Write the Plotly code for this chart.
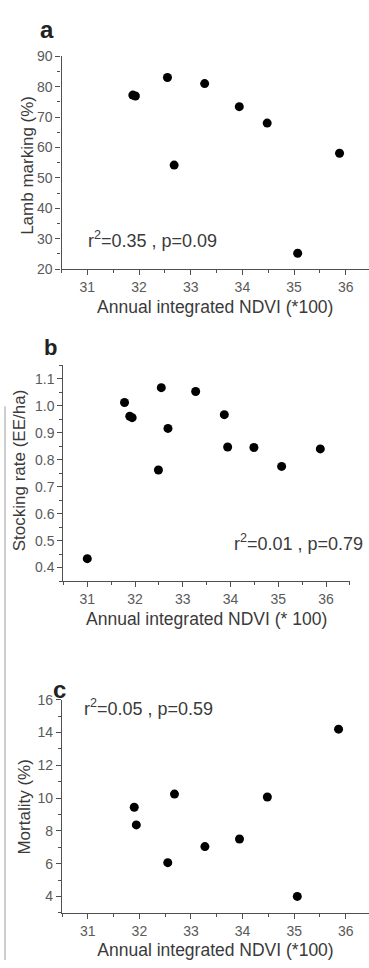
import plotly.graph_objects as go

# ---- data ----
ndvi_a = [31.88, 31.93, 32.55, 32.68, 33.27, 33.94, 34.48, 35.07, 35.88]
lamb_marking = [77.2, 76.9, 83.0, 54.2, 81.0, 73.4, 68.0, 25.2, 58.1]

ndvi_b = [31.00, 31.78, 31.89, 31.94, 32.49, 32.55, 32.69, 33.27, 33.87, 33.94, 34.49, 35.07, 35.88]
stocking_rate = [0.433, 1.012, 0.961, 0.956, 0.762, 1.067, 0.916, 1.053, 0.967, 0.847, 0.845, 0.775, 0.840]

ndvi_c = [31.90, 31.94, 32.55, 32.68, 33.27, 33.94, 34.48, 35.06, 35.86]
mortality = [9.44, 8.36, 6.06, 10.24, 7.04, 7.50, 10.06, 4.00, 14.20]

x_ticks = [31, 32, 33, 34, 35, 36]
stats_a = "r<sup>2</sup>=0.35 , p=0.09"
stats_b = "r<sup>2</sup>=0.01 , p=0.79"
stats_c = "r<sup>2</sup>=0.05 , p=0.59"

W, H = 369, 968
FONT = "Liberation Sans, Arial, sans-serif"
AX = "#505050"
TICKC = "#5a5a5a"
TITC = "#3a3a3a"

def px(x):
    return x / W

def py(y):
    return 1 - y / H

fig = go.Figure()
mk = dict(color="black", size=9)
fig.add_trace(go.Scatter(x=ndvi_a, y=lamb_marking, mode="markers", marker=mk, xaxis="x", yaxis="y", showlegend=False))
fig.add_trace(go.Scatter(x=ndvi_b, y=stocking_rate, mode="markers", marker=mk, xaxis="x2", yaxis="y2", showlegend=False))
fig.add_trace(go.Scatter(x=ndvi_c, y=mortality, mode="markers", marker=mk, xaxis="x3", yaxis="y3", showlegend=False))

def xax(domain, rng, anchor, title):
    return dict(domain=domain, range=rng, anchor=anchor, showgrid=False, zeroline=False,
                showline=True, linecolor=AX, linewidth=1.3, ticks="outside", ticklen=5,
                tickwidth=1.2, tickcolor=AX, tickvals=x_ticks,
                minor=dict(dtick=0.5, ticks="outside", ticklen=3, tickcolor=AX, tickwidth=1),
                tickfont=dict(family=FONT, size=14, color=TICKC),
                title=dict(text=title, font=dict(family=FONT, size=17.5, color=TITC), standoff=6))

def yax(domain, rng, anchor, dtick, mdtick):
    return dict(domain=domain, range=rng, anchor=anchor, showgrid=False, zeroline=False,
                showline=True, linecolor=AX, linewidth=1.3, ticks="outside", ticklen=5,
                tickwidth=1.2, tickcolor=AX, dtick=dtick, tick0=0,
                minor=dict(dtick=mdtick, ticks="outside", ticklen=3, tickcolor=AX, tickwidth=1),
                tickfont=dict(family=FONT, size=14, color=TICKC))

fig.update_layout(
    width=W, height=H, margin=dict(l=0, r=0, t=0, b=0),
    paper_bgcolor="white", plot_bgcolor="white",
    xaxis=xax([px(61.5), 1.0], [30.5, 36.45], "y", "Annual integrated NDVI (*100)"),
    yaxis=yax([py(265.5), py(49)], [20, 90], "x", 10, 5),
    xaxis2=xax([px(63.4), px(349.9)], [30.5, 36.5], "y2", "Annual integrated NDVI (* 100)"),
    yaxis2=dict(yax([py(582.7), py(363.3)], [0.35, 1.15], "x2", 0.1, 0.05), tickformat=".1f"),
    xaxis3=xax([px(62), 1.0], [30.5, 36.45], "y3", "Annual integrated NDVI (*100)"),
    yaxis3=yax([py(920), py(703.3)], [3, 16], "x3", 2, 1),
)

ann = []
def label(text, x, y, size=18, bold=False, angle=0, color=TITC, xanchor="center"):
    ann.append(dict(text=f"<b>{text}</b>" if bold else text, x=px(x), y=py(y), xref="paper", yref="paper",
                    showarrow=False, xanchor=xanchor, yanchor="middle", textangle=angle,
                    font=dict(family=FONT, size=size, color=color)))

label("a", 47, 22, size=24, bold=True, color="#222")
label("b", 50.5, 345, size=22, bold=True, color="#222")
label("c", 59, 693, size=24, bold=True, color="#222")
label("Lamb marking (%)", 27.5, 160, size=17, angle=-90)
label("Stocking rate (EE/ha)", 19, 470, size=17, angle=-90)
label("Mortality (%)", 25, 812, size=17, angle=-90)
label(stats_a, 152, 235, size=18)
label(stats_b, 298.5, 543, size=18)
label(stats_c, 148.5, 711.7, size=18)
fig.update_layout(annotations=ann)

fig.add_shape(type="line", xref="paper", yref="paper", x0=px(5), x1=px(5), y0=0, y1=py(405),
              line=dict(color="#9a9a9a", width=1))

fig.write_html("out.html", config={"displayModeBar": False},
               post_script="document.body.style.margin='0';document.body.style.overflow='hidden';")
